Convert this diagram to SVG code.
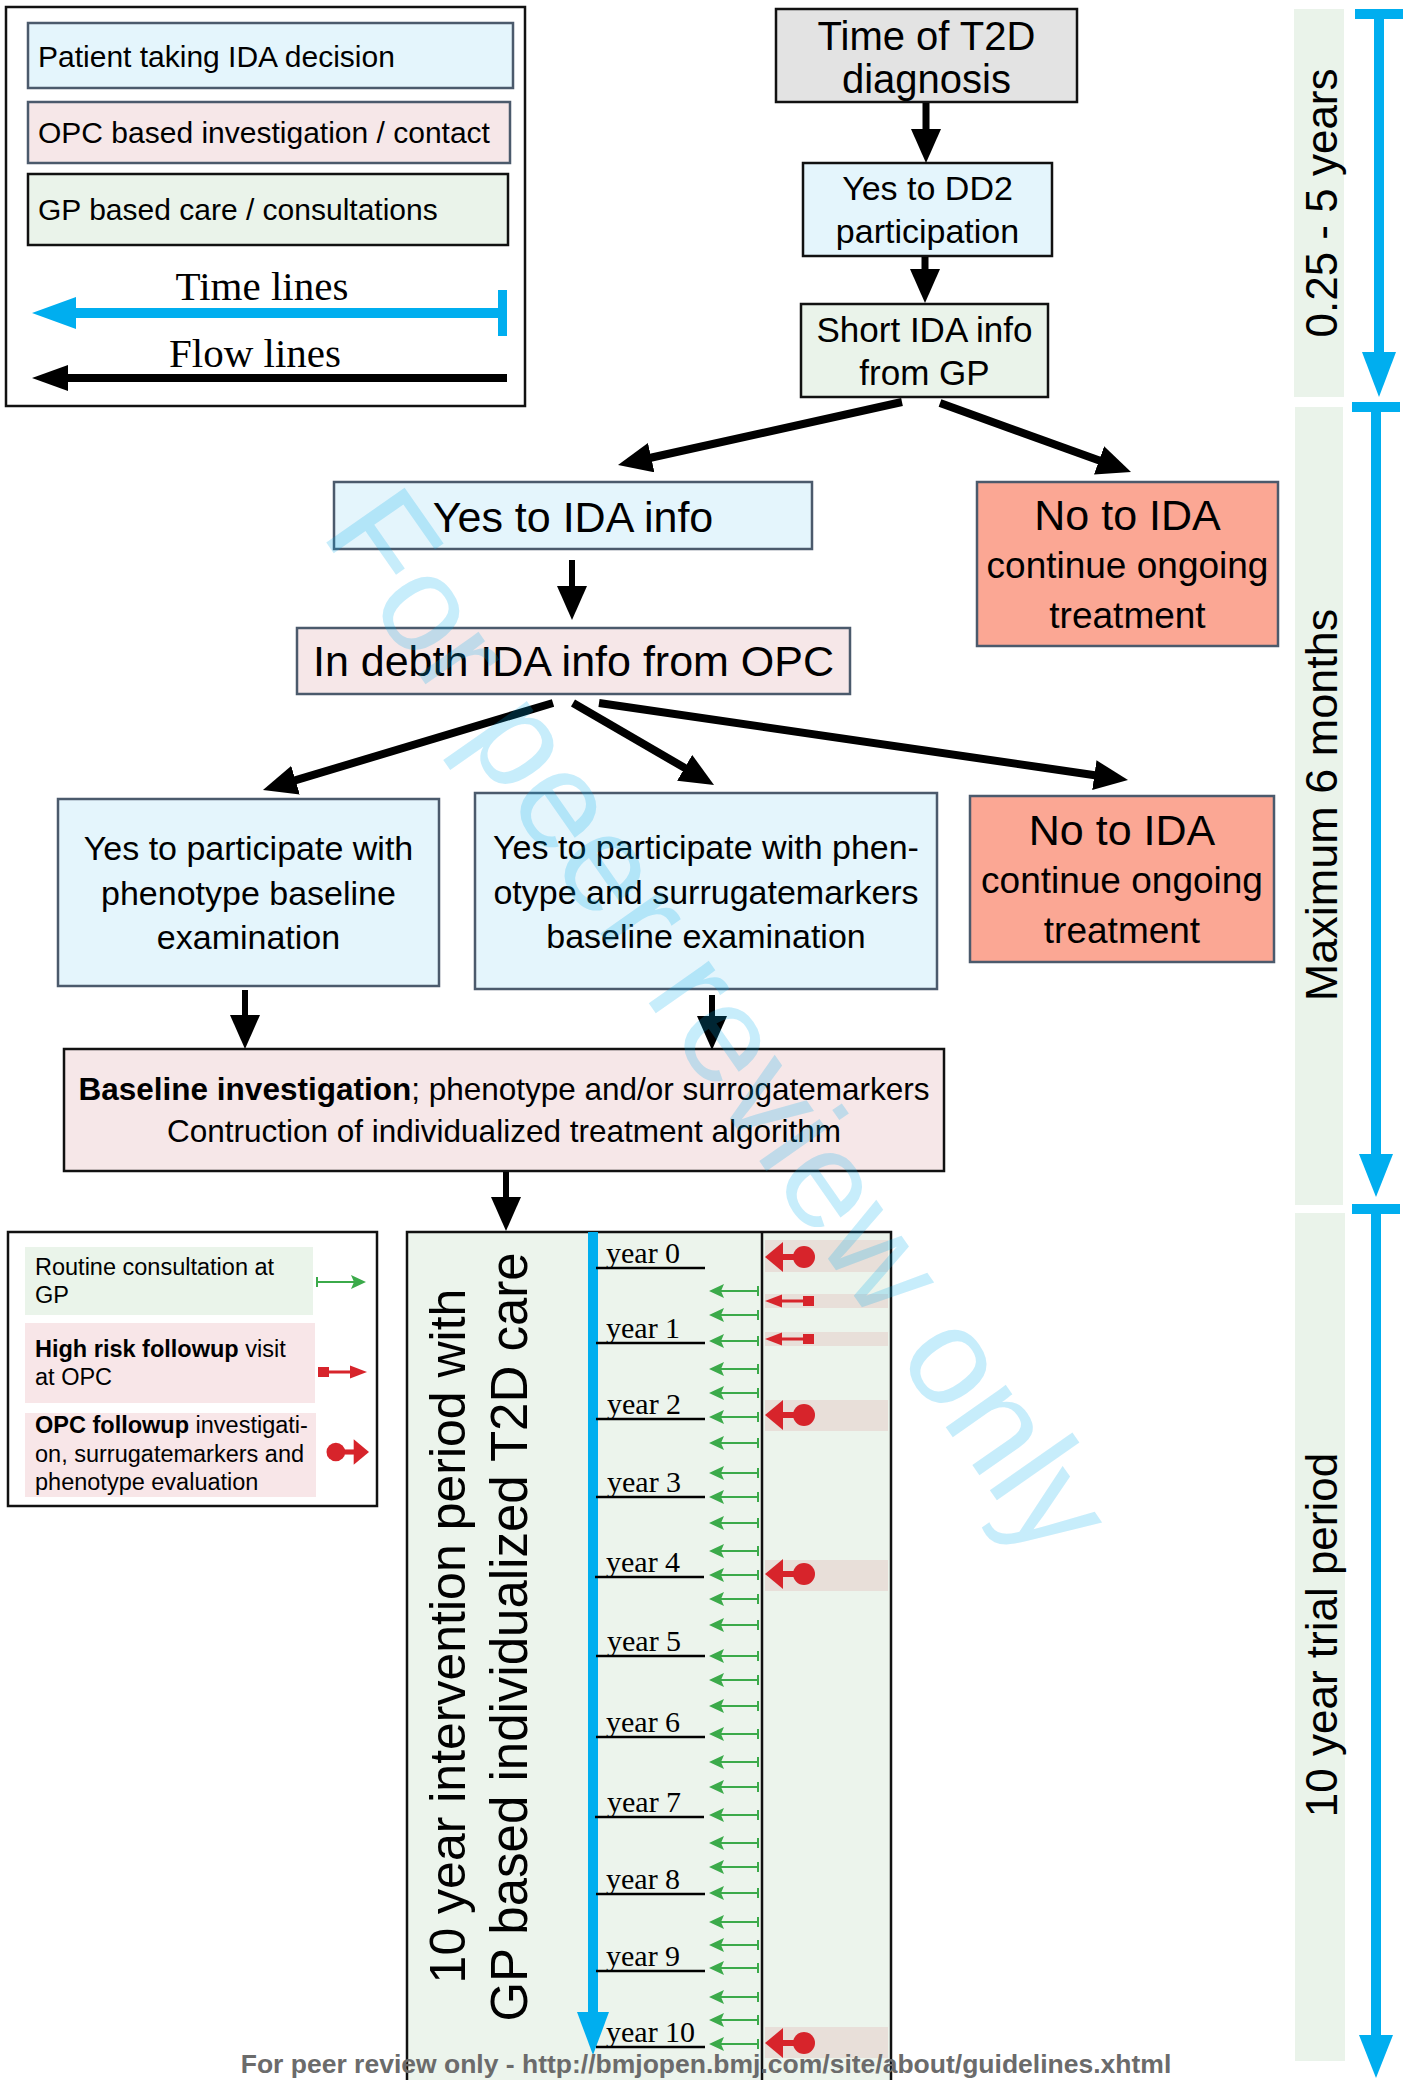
<svg xmlns="http://www.w3.org/2000/svg" width="1413" height="2080" viewBox="0 0 1413 2080">
<style>
.t{font-family:"Liberation Sans",Arial,sans-serif;fill:#000}
.s{font-family:"Liberation Serif","Times New Roman",serif;fill:#000}
.mid{text-anchor:middle}
.bb{fill:#E4F5FC;stroke:#4B5A6C;stroke-width:2.5}
.bp{fill:#F6E7E8;stroke:#4B5A6C;stroke-width:2.5}
.bs{fill:#FBA794;stroke:#4B5A6C;stroke-width:2.5}
.bg{fill:#EAF3EA;stroke:#111;stroke-width:2.5}
.bgr{fill:#E3E3E3;stroke:#111;stroke-width:2.5}
.bpk{fill:#F6E7E8;stroke:#111;stroke-width:2.5}
.flow{stroke:#000;fill:none;marker-end:url(#ah)}
.blue{fill:#00AEEF}
.tlbg{fill:#EAF3EA}
.band{fill:#E8DFD9}
.yl{stroke:#000;stroke-width:2.5}
</style>
<defs>
<marker id="ah" viewBox="0 0 34 30" refX="4" refY="15" markerWidth="34" markerHeight="30" markerUnits="userSpaceOnUse" orient="auto">
<path d="M0,0 L34,15 L0,30 z" fill="#000"/>
</marker>
<g id="ga">
<path d="M0,-5 V5 M0,0 H-40" stroke="#3BAA4A" stroke-width="2" fill="none"/>
<polygon points="-49,0 -34,-7 -37,0 -34,7" fill="#3BAA4A"/>
</g>
<g id="redBig" fill="#D7242B">
<polygon points="0,0 18,-15 18,15"/>
<rect x="16" y="-3" width="22" height="6"/>
<circle cx="39" cy="0" r="11"/>
</g>
<g id="redSmall" fill="#D7242B">
<polygon points="0,0 17,-6.5 17,6.5"/>
<rect x="15" y="-1.5" width="25" height="3"/>
<rect x="38" y="-5" width="11" height="10"/>
</g>
</defs>
<rect width="1413" height="2080" fill="#fff"/>

<!-- Legend 1 -->
<g id="legend-top">
<rect x="6" y="7" width="519" height="399" fill="#fff" stroke="#111" stroke-width="2.5"/>
<rect x="28" y="23" width="485" height="65" class="bb"/>
<text x="38" y="67" class="t" font-size="30">Patient taking IDA decision</text>
<rect x="28" y="102" width="482" height="61" class="bp"/>
<text x="38" y="143" class="t" font-size="30">OPC based investigation / contact</text>
<rect x="28" y="174" width="480" height="71" class="bg"/>
<text x="38" y="220" class="t" font-size="30">GP based care / consultations</text>
<text x="262" y="300" class="s mid" font-size="41">Time lines</text>
<rect x="74" y="308" width="426" height="10" class="blue"/>
<polygon points="32,313 76,297 76,329" class="blue"/>
<rect x="498" y="290" width="9" height="46" class="blue"/>
<text x="255" y="367" class="s mid" font-size="41">Flow lines</text>
<rect x="66" y="374" width="441" height="8" fill="#000"/>
<polygon points="32,378 68,365 68,391" fill="#000"/>
</g>

<!-- Flow nodes -->
<g id="n-t2d">
<rect x="776" y="9" width="301" height="93" class="bgr"/>
<text x="926.5" y="49.5" class="t mid" font-size="40">Time of T2D</text>
<text x="926.5" y="93" class="t mid" font-size="40">diagnosis</text>
</g>
<g id="n-dd2">
<rect x="803" y="163" width="249" height="93" class="bb" style="stroke:#111"/>
<text x="927.5" y="200" class="t mid" font-size="34">Yes to DD2</text>
<text x="927.5" y="243" class="t mid" font-size="34">participation</text>
</g>
<g id="n-short">
<rect x="801" y="304" width="247" height="93" class="bg"/>
<text x="924.5" y="342" class="t mid" font-size="35">Short IDA info</text>
<text x="924.5" y="385" class="t mid" font-size="35">from GP</text>
</g>
<g id="n-yesinfo">
<rect x="334" y="482" width="478" height="67" class="bb"/>
<text x="573" y="532" class="t mid" font-size="43">Yes to IDA info</text>
</g>
<g id="n-no1">
<rect x="977" y="482" width="301" height="164" class="bs"/>
<text x="1127.5" y="530" class="t mid" font-size="43">No to IDA</text>
<text x="1127.5" y="578" class="t mid" font-size="37">continue ongoing</text>
<text x="1127.5" y="628" class="t mid" font-size="37">treatment</text>
</g>
<g id="n-debth">
<rect x="297" y="628" width="553" height="66" class="bp"/>
<text x="573.5" y="676" class="t mid" font-size="43">In debth IDA info from OPC</text>
</g>
<g id="n-yes-pheno">
<rect x="58" y="799" width="381" height="187" class="bb"/>
<text x="248.5" y="860" class="t mid" font-size="34">Yes to participate with</text>
<text x="248.5" y="905" class="t mid" font-size="34">phenotype baseline</text>
<text x="248.5" y="949" class="t mid" font-size="34">examination</text>
</g>
<g id="n-yes-surr">
<rect x="475" y="793" width="462" height="196" class="bb"/>
<text x="706" y="859" class="t mid" font-size="34">Yes to participate with phen-</text>
<text x="706" y="904" class="t mid" font-size="34">otype and surrugatemarkers</text>
<text x="706" y="948" class="t mid" font-size="34">baseline examination</text>
</g>
<g id="n-no2">
<rect x="970" y="796" width="304" height="166" class="bs"/>
<text x="1122" y="845" class="t mid" font-size="43">No to IDA</text>
<text x="1122" y="893" class="t mid" font-size="37">continue ongoing</text>
<text x="1122" y="943" class="t mid" font-size="37">treatment</text>
</g>
<g id="n-baseline">
<rect x="64" y="1049" width="880" height="122" class="bpk"/>
<text x="504" y="1100" class="t mid" font-size="31.5"><tspan font-weight="bold">Baseline investigation</tspan>; phenotype and/or surrogatemarkers</text>
<text x="504" y="1142" class="t mid" font-size="31.5">Contruction of individualized treatment algorithm</text>
</g>

<!-- Flow connectors -->
<g id="connectors">
<path d="M926,103 V133" class="flow" stroke-width="7"/>
<path d="M925,257 V273" class="flow" stroke-width="7"/>
<path d="M902,402 L647.3,458.5" class="flow" stroke-width="8"/>
<path d="M940,403 L1102.8,461.8" class="flow" stroke-width="8"/>
<path d="M572,560 V590" class="flow" stroke-width="6"/>
<path d="M553,703 L291.7,781.4" class="flow" stroke-width="8"/>
<path d="M573,703 L688.1,769.9" class="flow" stroke-width="8"/>
<path d="M599,703 L1098.3,775.7" class="flow" stroke-width="8"/>
<path d="M245,990 V1019" class="flow" stroke-width="6"/>
<path d="M712,995 V1020" class="flow" stroke-width="6"/>
<path d="M506,1172 V1201" class="flow" stroke-width="6"/>
</g>

<!-- Right time lines -->
<g id="timelines">
<rect x="1294" y="9" width="50" height="388" class="tlbg"/>
<rect x="1295" y="407" width="48" height="798" class="tlbg"/>
<rect x="1295" y="1213" width="50" height="848" class="tlbg"/>
<text transform="translate(1337,203) rotate(-90)" class="t mid" font-size="44">0.25 - 5 years</text>
<text transform="translate(1337,805) rotate(-90)" class="t mid" font-size="45">Maximum 6 months</text>
<text transform="translate(1337,1635) rotate(-90)" class="t mid" font-size="44">10 year trial period</text>
<rect x="1355" y="9" width="48" height="10" class="blue"/>
<rect x="1374" y="18" width="10" height="336" class="blue"/>
<polygon points="1362,352 1396,352 1379,397" class="blue"/>
<rect x="1352" y="402" width="48" height="10" class="blue"/>
<rect x="1371" y="411" width="10" height="745" class="blue"/>
<polygon points="1359,1154 1393,1154 1376,1197" class="blue"/>
<rect x="1352" y="1204" width="48" height="10" class="blue"/>
<rect x="1371" y="1213" width="10" height="824" class="blue"/>
<polygon points="1359,2035 1393,2035 1376,2078" class="blue"/>
</g>

<!-- Legend 2 -->
<g id="legend-bottom">
<rect x="8" y="1232" width="369" height="274" fill="#fff" stroke="#111" stroke-width="2.5"/>
<rect x="25" y="1247" width="288" height="68" fill="#EAF4EA"/>
<text x="35" y="1275" class="t" font-size="23.5">Routine consultation at</text>
<text x="35" y="1303" class="t" font-size="23.5">GP</text>
<use href="#ga" transform="translate(317,1282) scale(-1,1)"/>
<rect x="25" y="1323" width="290" height="80" fill="#F8E6E8"/>
<text x="35" y="1357" class="t" font-size="23.5"><tspan font-weight="bold">High risk followup</tspan> visit</text>
<text x="35" y="1385" class="t" font-size="23.5">at OPC</text>
<use href="#redSmall" transform="translate(367,1372) scale(-1,1)"/>
<rect x="25" y="1413" width="291" height="84" fill="#F8E6E8"/>
<text x="35" y="1433" class="t" font-size="23.5"><tspan font-weight="bold">OPC followup</tspan> investigati-</text>
<text x="35" y="1462" class="t" font-size="23.5">on, surrugatemarkers and</text>
<text x="35" y="1490" class="t" font-size="23.5">phenotype evaluation</text>
<use href="#redBig" transform="translate(369,1452) scale(-0.85,0.85)"/>
</g>

<!-- Intervention period -->
<g id="n-intervention">
<rect x="407" y="1232" width="484" height="860" fill="#ECF4EC" stroke="#111" stroke-width="2.5"/>
<line x1="762" y1="1232" x2="762" y2="2080" stroke="#111" stroke-width="2.5"/>
<text transform="translate(465,1636) rotate(-90)" class="t mid" font-size="50">10 year intervention period with</text>
<text transform="translate(527,1637) rotate(-90)" class="t mid" font-size="51">GP based individualized T2D care</text>
<rect x="588" y="1232" width="10" height="783" class="blue"/>
<polygon points="577,2012 609,2012 593,2055" class="blue"/>
<g id="years">
<line x1="596" y1="1268" x2="705" y2="1268" class="yl"/><text x="606" y="1263" class="s" font-size="30">year 0</text>
<line x1="596" y1="1343" x2="705" y2="1343" class="yl"/><text x="606" y="1338" class="s" font-size="30">year 1</text>
<line x1="596" y1="1419" x2="705" y2="1419" class="yl"/><text x="607" y="1414" class="s" font-size="30">year 2</text>
<line x1="596" y1="1497" x2="705" y2="1497" class="yl"/><text x="607" y="1492" class="s" font-size="30">year 3</text>
<line x1="595" y1="1577" x2="704" y2="1577" class="yl"/><text x="606" y="1572" class="s" font-size="30">year 4</text>
<line x1="596" y1="1656" x2="705" y2="1656" class="yl"/><text x="607" y="1651" class="s" font-size="30">year 5</text>
<line x1="596" y1="1737" x2="705" y2="1737" class="yl"/><text x="606" y="1732" class="s" font-size="30">year 6</text>
<line x1="595" y1="1817" x2="704" y2="1817" class="yl"/><text x="607" y="1812" class="s" font-size="30">year 7</text>
<line x1="596" y1="1894" x2="705" y2="1894" class="yl"/><text x="606" y="1889" class="s" font-size="30">year 8</text>
<line x1="596" y1="1971" x2="705" y2="1971" class="yl"/><text x="606" y="1966" class="s" font-size="30">year 9</text>
<line x1="596" y1="2047" x2="705" y2="2047" class="yl"/><text x="606" y="2042" class="s" font-size="30">year 10</text>
</g>
<g id="gp-visits">
<use href="#ga" x="758" y="1291"/><use href="#ga" x="758" y="1315"/><use href="#ga" x="758" y="1341"/>
<use href="#ga" x="758" y="1369"/><use href="#ga" x="758" y="1393"/><use href="#ga" x="758" y="1417"/>
<use href="#ga" x="758" y="1443"/><use href="#ga" x="758" y="1473"/><use href="#ga" x="758" y="1497"/>
<use href="#ga" x="758" y="1523"/><use href="#ga" x="758" y="1551"/><use href="#ga" x="758" y="1575"/>
<use href="#ga" x="758" y="1599"/><use href="#ga" x="758" y="1625"/><use href="#ga" x="758" y="1656"/>
<use href="#ga" x="758" y="1680"/><use href="#ga" x="758" y="1706"/><use href="#ga" x="758" y="1734"/>
<use href="#ga" x="758" y="1762"/><use href="#ga" x="758" y="1787"/><use href="#ga" x="758" y="1815"/>
<use href="#ga" x="758" y="1843"/><use href="#ga" x="758" y="1867"/><use href="#ga" x="758" y="1893"/>
<use href="#ga" x="758" y="1922"/><use href="#ga" x="758" y="1945"/><use href="#ga" x="758" y="1968"/>
<use href="#ga" x="758" y="1997"/><use href="#ga" x="758" y="2020"/><use href="#ga" x="758" y="2044"/>
</g>
<g id="opc-visits">
<rect x="765" y="1240" width="123" height="32" class="band"/>
<rect x="765" y="1294" width="123" height="14" class="band"/>
<rect x="765" y="1332" width="123" height="14" class="band"/>
<rect x="765" y="1400" width="123" height="31" class="band"/>
<rect x="765" y="1560" width="123" height="31" class="band"/>
<rect x="765" y="2027" width="123" height="31" class="band"/>
<use href="#redBig" x="765" y="1257"/>
<use href="#redSmall" x="765" y="1301"/>
<use href="#redSmall" x="765" y="1339"/>
<use href="#redBig" x="765" y="1415"/>
<use href="#redBig" x="765" y="1574"/>
<use href="#redBig" x="765" y="2043"/>
</g>
</g>

<!-- Watermark and footer -->
<text transform="translate(681,1049) rotate(55)" class="t mid" font-size="139" style="fill:#00AEEF;fill-opacity:0.22">For peer review only</text>
<text x="706" y="2073" class="t mid" font-size="26.5" font-weight="bold" style="fill:#6b6b6b">For peer review only - http://bmjopen.bmj.com/site/about/guidelines.xhtml</text>
</svg>
